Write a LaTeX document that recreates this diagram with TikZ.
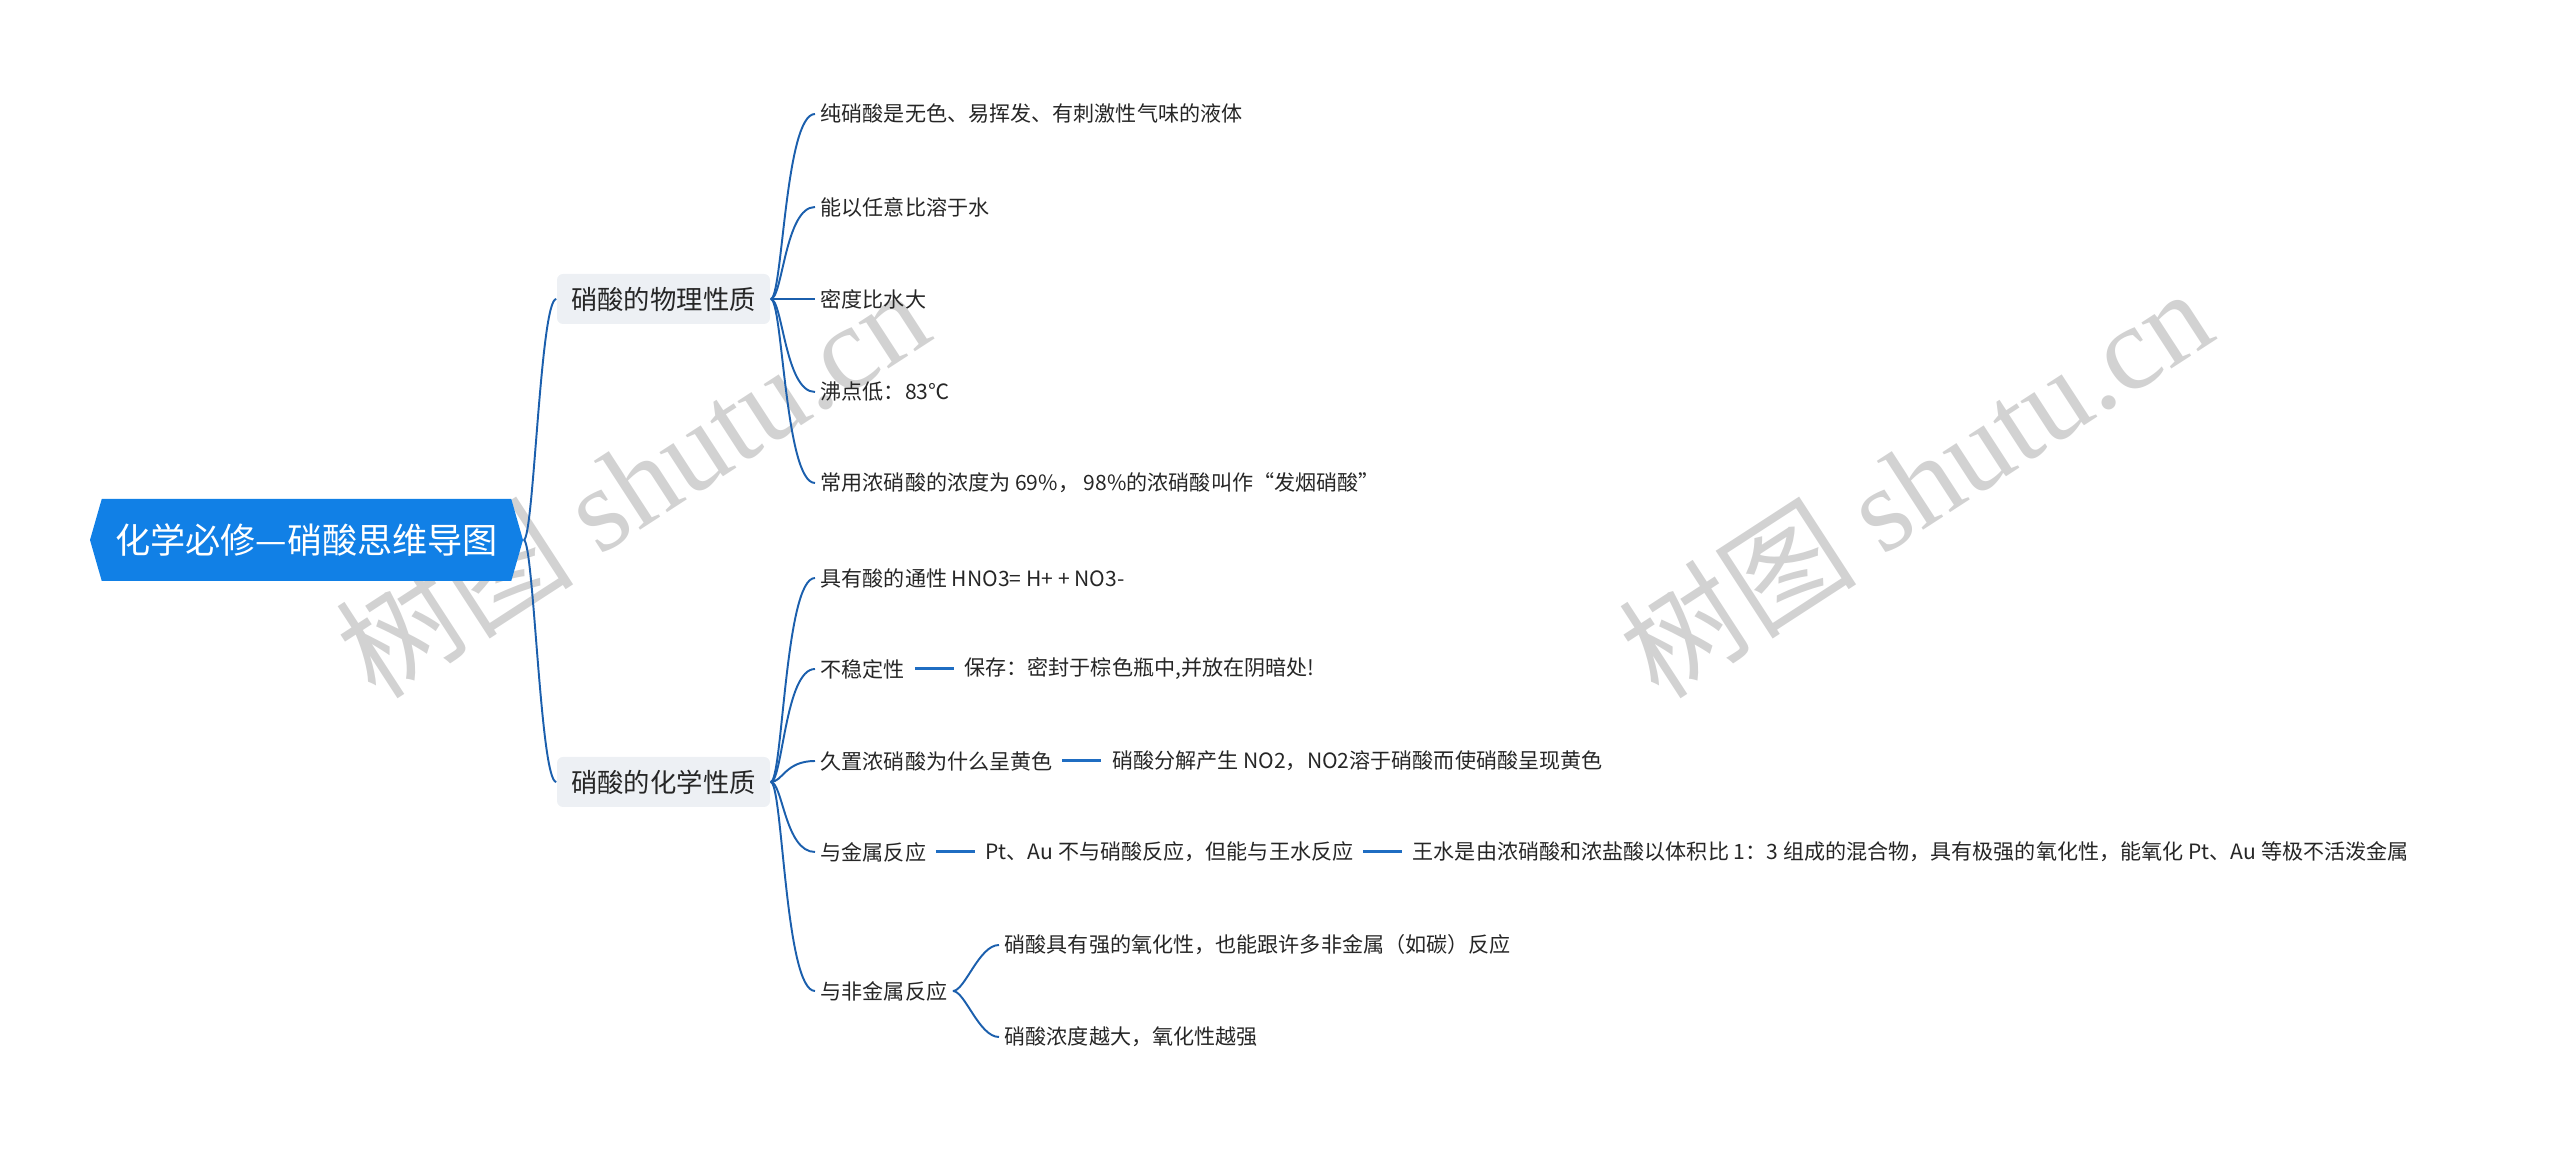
\documentclass[tikz,border=0pt]{standalone}
\usepackage{fontspec}
\setmainfont{Noto Sans CJK SC}
\newfontfamily\wmfont{Liberation Serif}
\usetikzlibrary{positioning}
\usetikzlibrary{shapes.symbols}

\definecolor{rootblue}{HTML}{1180E6}
\definecolor{topicgray}{HTML}{EDF0F4}
\definecolor{linkblue}{HTML}{1B5FAD}
\definecolor{chainblue}{HTML}{1F6DC2}
\definecolor{textcol}{HTML}{262626}
\definecolor{wmgray}{HTML}{D2D2D2}

\tikzset{
  rootbox/.style={signal, signal to=west and east, signal pointer angle=148,
    fill=rootblue, text=white, font=\fontsize{10}{12}\selectfont,
    minimum width=4.33cm, minimum height=0.82cm, inner sep=0pt},
  topicbox/.style={fill=topicgray, rounded corners=0.06cm, text=textcol,
    font=\fontsize{7.5}{9}\selectfont, minimum width=2.13cm,
    minimum height=0.5cm, inner sep=0pt},
  leaf/.style={text=textcol, font=\fontsize{6}{7}\selectfont,
    inner xsep=0.05cm, inner ysep=0.03cm, anchor=west},
  link/.style={draw=linkblue, line width=0.55pt},
  chainlink/.style={draw=chainblue, line width=0.85pt,
    shorten <=0.04cm, shorten >=0.05cm},
  watermark/.style={text=wmgray, font=\fontsize{34}{34}\selectfont,
    rotate=33, anchor=base west, inner sep=0pt}
}

\begin{document}
\begin{tikzpicture}
  \useasboundingbox (0,0) rectangle (25.6,11.49);

  % watermarks
  \node [watermark] (wm1) at (3.76,4.47) {树图 {\wmfont shutu.cn}};
  \node [watermark] (wm2) at (16.59,4.47) {树图 {\wmfont shutu.cn}};

  % root and main topics
  \node [rootbox] (root) at (3.065,6.09) {化学必修—硝酸思维导图};
  \node [topicbox] (phys) at (6.635,8.50) {硝酸的物理性质};
  \node [topicbox] (chem) at (6.635,3.67) {硝酸的化学性质};

  % physical properties
  \node [leaf] (p1) at (8.15,10.35) {纯硝酸是无色、易挥发、有刺激性气味的液体};
  \node [leaf] (p2) at (8.15,9.42) {能以任意比溶于水};
  \node [leaf] (p3) at (8.15,8.50) {密度比水大};
  \node [leaf] (p4) at (8.15,7.57) {沸点低：83℃};
  \node [leaf] (p5) at (8.15,6.66) {常用浓硝酸的浓度为 69\%，~98\%的浓硝酸叫作“发烟硝酸”};

  % chemical properties
  \node [leaf] (c1) at (8.15,5.71) {具有酸的通性 HNO3= H+ + NO3-};
  \node [leaf] (c2) at (8.15,4.80) {不稳定性};
  \node [leaf, right=0.48cm of c2] (c2a) {保存：密封于棕色瓶中,并放在阴暗处!};
  \node [leaf] (c3) at (8.15,3.88) {久置浓硝酸为什么呈黄色};
  \node [leaf, right=0.48cm of c3] (c3a) {硝酸分解产生 NO2，NO2溶于硝酸而使硝酸呈现黄色};
  \node [leaf] (c4) at (8.15,2.97) {与金属反应};
  \node [leaf, right=0.48cm of c4] (c4a) {Pt、Au 不与硝酸反应，但能与王水反应};
  \node [leaf, right=0.48cm of c4a] (c4b) {王水是由浓硝酸和浓盐酸以体积比 1：3 组成的混合物，具有极强的氧化性，能氧化 Pt、Au 等极不活泼金属};
  \node [leaf] (c5) at (8.15,1.58) {与非金属反应};
  \node [leaf] (c5a) at (9.99,2.04) {硝酸具有强的氧化性，也能跟许多非金属（如碳）反应};
  \node [leaf] (c5b) at (9.99,1.12) {硝酸浓度越大，氧化性越强};

  % connectors
  \foreach \t in {phys,chem}
    \draw [link] (root.east) .. controls +(0.1,0) and +(-0.16,0) .. (\t.west);
  \foreach \l in {p1,p2,p3,p4,p5}
    \draw [link] (phys.east) .. controls +(0.12,0) and +(-0.3,0) .. (\l.west);
  \foreach \l in {c1,c2,c3,c4,c5}
    \draw [link] (chem.east) .. controls +(0.12,0) and +(-0.3,0) .. (\l.west);
  \foreach \l in {c5a,c5b}
    \draw [link] (c5.east) .. controls +(0.12,0) and +(-0.2,0) .. (\l.west);
  \draw [chainlink] (c2.east) -- (c2a.west);
  \draw [chainlink] (c3.east) -- (c3a.west);
  \draw [chainlink] (c4.east) -- (c4a.west);
  \draw [chainlink] (c4a.east) -- (c4b.west);
\end{tikzpicture}
\end{document}
